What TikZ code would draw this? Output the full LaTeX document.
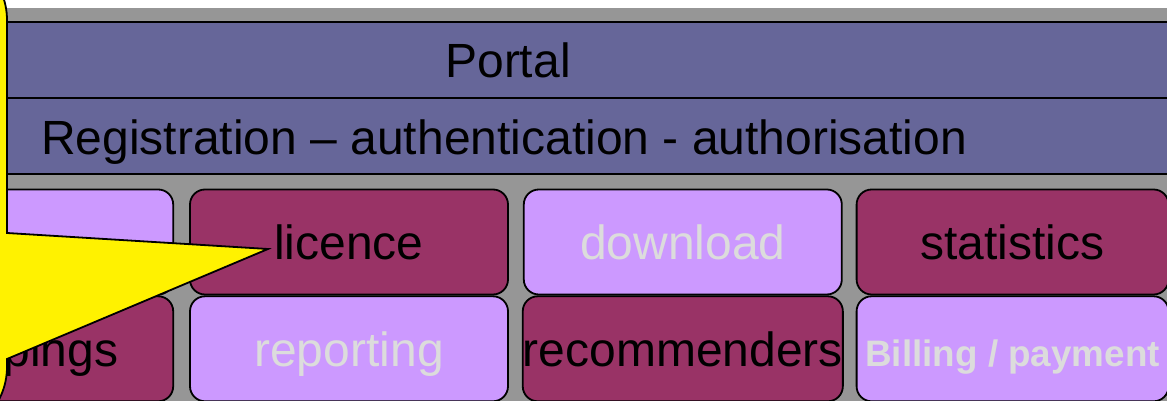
\documentclass[tikz,border=0pt]{standalone}
\usepackage{fontspec}
\setmainfont{Liberation Sans}
\usetikzlibrary{positioning}
\definecolor{bargray}{RGB}{150,150,150}
\definecolor{barblue}{RGB}{102,102,153}
\definecolor{tilemaroon}{RGB}{153,51,102}
\definecolor{tilelilac}{RGB}{204,153,255}
\definecolor{paletext}{RGB}{220,220,220}
\newcommand{\bigfont}{\fontsize{48pt}{57pt}\selectfont}

\begin{document}
\begin{tikzpicture}[x=1pt, y=1pt, node distance=14pt,
      bar/.style={rectangle, draw, line width=1.8pt, fill=barblue,
                  minimum width=1200pt, minimum height=76pt, outer sep=0pt},
      tile/.style={rectangle, draw, line width=1.8pt, rounded corners=15pt,
                   minimum width=318pt, minimum height=105pt, inner sep=0pt,
                   text height=44pt, text depth=9pt, font=\bigfont},
      dark/.style={tile, fill=tilemaroon, text=black},
      light/.style={tile, fill=tilelilac, text=paletext},
      callout/.style={draw, line width=1.8pt, fill=yellow}]
    \path[use as bounding box, fill=white] (0,0) rectangle (1167,401);
    \fill[bargray] (0,0) rectangle (1167,393);

    \node[bar, anchor=west] (portal) at (7,341) {};
    \node[bar, below=0pt of portal] (reg) {};
    \node[anchor=base, font=\bigfont] (portaltext) at (508,323) {Portal};
    \node[anchor=base west, inner sep=0pt, font=\bigfont] (regtext) at (41,246)
      {Registration – authentication - authorisation};

    \node[dark] (licence) at (349,159) {licence};
    \node[light, right=of licence] (download) {download};
    \node[dark, right=13pt of download, minimum width=312pt] (statistics) {statistics};
    \node[light, left=15pt of licence] (leftup) {};
    \node[dark, below=0pt of leftup] (mappings) {mappings};
    \node[light, below=0pt of licence] (reporting) {reporting};
    \node[dark, below=0pt of download] (recommenders) {recommenders};
    \node[light, below=0pt of statistics, minimum width=312pt,
          font=\bfseries\fontsize{36.8pt}{44pt}\selectfont] (billing) {Billing / payment};

    \coordinate (tip) at (268,152);
    \draw[callout] (-300,451) -- (-63,451) arc[start angle=90, end angle=0, radius=70pt]
      -- (7,168) -- (tip) -- (7,42) -- (7,34)
      arc[start angle=0, end angle=-90, radius=70pt] -- (-300,-36) -- cycle;
  \end{tikzpicture}
\end{document}
